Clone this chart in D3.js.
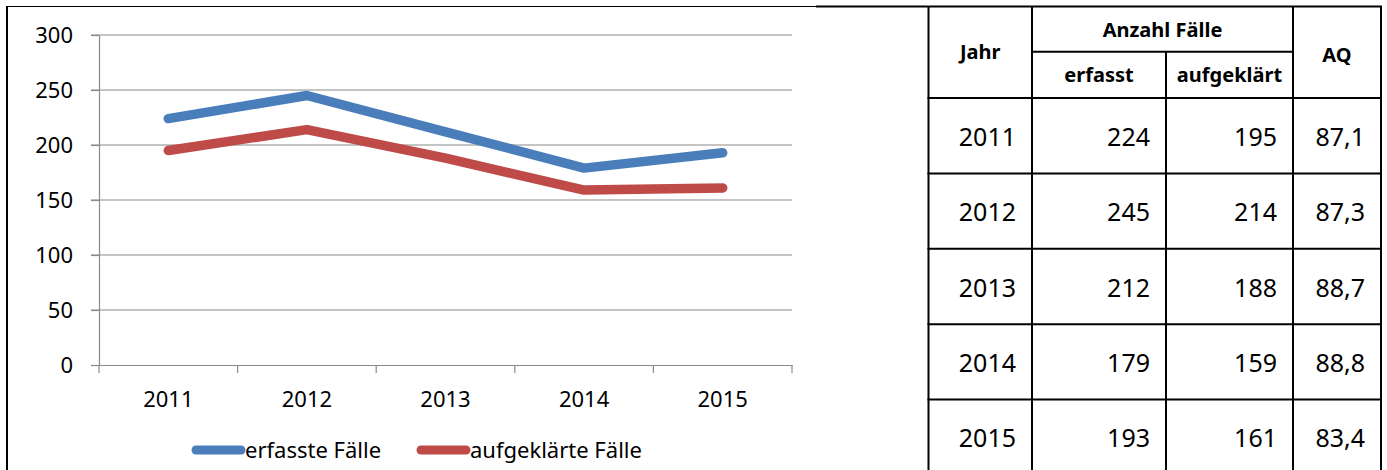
<!DOCTYPE html>
<html lang="de">
<head>
<meta charset="UTF-8">
<title>Fälle 2011-2015</title>
<script src="https://cdn.jsdelivr.net/npm/d3@7/dist/d3.min.js"></script>
<style>
  body { margin: 0; background: #fff; }
  svg text { font-family: "Noto Sans", sans-serif; fill: #000; }
  .grid line { stroke: #8a8a8a; stroke-width: 1.2; }
  .ax path, .ax line { stroke: #8a8a8a; stroke-width: 1.2; }
  .tbl line { stroke: #000; stroke-width: 2; }
</style>
</head>
<body>
<svg id="chart" width="1387" height="470"></svg>
<script>

// data
var years = ["2011", "2012", "2013", "2014", "2015"];
var erfasst = [224, 245, 212, 179, 193];
var aufgeklaert = [195, 214, 188, 159, 161];
var aq = ["87,1", "87,3", "88,7", "88,8", "83,4"];
var yTicks = [0, 50, 100, 150, 200, 250, 300];
var seriesNames = ["erfasste Fälle", "aufgeklärte Fälle"];
var seriesColors = ["#4a7ebb", "#be4b48"];

var svg = d3.select("#chart");

// ---------- line chart ----------
var x = d3.scaleBand().domain(years).range([99, 792]);
var y = d3.scaleLinear().domain([0, 300]).range([365, 35]);

// frame
svg.append("line").attr("x1", 7).attr("x2", 7).attr("y1", 6).attr("y2", 470)
    .style("stroke", "#000").style("stroke-width", 2);
svg.append("line").attr("x1", 6).attr("x2", 816).attr("y1", 6.5).attr("y2", 6.5)
    .style("stroke", "#000").style("stroke-width", 1.2);

// gridlines
svg.append("g").attr("class", "grid")
    .selectAll("line").data(yTicks.filter(function (d) { return d > 0; }))
    .enter().append("line")
    .attr("x1", 91).attr("x2", 792)
    .attr("y1", function (d) { return y(d); })
    .attr("y2", function (d) { return y(d); });

// y axis
var yAxis = svg.append("g").attr("class", "ax")
    .attr("transform", "translate(99,0)")
    .call(d3.axisLeft(y).tickValues(yTicks).tickSize(8).tickSizeOuter(0).tickPadding(18));
yAxis.selectAll("text").style("font-size", "22px").attr("dy", "0.36em");

// x axis
var xAxis = svg.append("g").attr("class", "ax")
    .attr("transform", "translate(0,365)")
    .call(d3.axisBottom(x).tickSize(0).tickSizeOuter(0).tickPadding(0));
xAxis.selectAll("text").style("font-size", "22px").attr("y", 26).attr("dy", "0.71em");

// category boundary ticks
var bounds = years.map(function (d) { return x(d); }).concat([x.range()[1]]);
xAxis.selectAll(".bt").data(bounds).enter().append("line")
    .attr("class", "bt")
    .attr("x1", function (d) { return d; }).attr("x2", function (d) { return d; })
    .attr("y1", 0).attr("y2", 8);

// lines
var line = d3.line()
    .x(function (d, i) { return x(years[i]) + x.bandwidth() / 2; })
    .y(function (d) { return y(d); });

[erfasst, aufgeklaert].forEach(function (s, k) {
    svg.append("path").datum(s)
        .attr("d", line)
        .style("fill", "none")
        .style("stroke", seriesColors[k])
        .style("stroke-width", 9.5)
        .style("stroke-linecap", "round")
        .style("stroke-linejoin", "round");
});

// legend
var legX = [196, 421];
seriesNames.forEach(function (n, k) {
    svg.append("line")
        .attr("x1", legX[k]).attr("x2", legX[k] + 45)
        .attr("y1", 450).attr("y2", 450)
        .style("stroke", seriesColors[k]).style("stroke-width", 9)
        .style("stroke-linecap", "round");
    svg.append("text").attr("x", legX[k] + 49).attr("y", 458)
        .style("font-size", "22px").text(n);
});

// ---------- table ----------
var cols = [928.5, 1032, 1166, 1293, 1381];
var rowTop = 98, rowH = 75.4, tTop = 6.5, split = 51.7;
var tbl = svg.append("g").attr("class", "tbl");

// top border (runs over from the chart frame)
tbl.append("line").attr("x1", 816).attr("x2", cols[4] + 1).attr("y1", tTop).attr("y2", tTop);
// vertical lines (the one between erfasst / aufgeklärt starts below "Anzahl Fälle")
tbl.selectAll(".v").data(cols).enter().append("line").attr("class", "v")
    .attr("x1", function (d) { return d; }).attr("x2", function (d) { return d; })
    .attr("y1", function (d, i) { return i === 2 ? split : tTop; })
    .attr("y2", 470);
// header split
tbl.append("line").attr("x1", cols[1]).attr("x2", cols[3]).attr("y1", split).attr("y2", split);
// row lines
var rowLines = d3.range(years.length).map(function (i) { return rowTop + i * rowH; });
tbl.selectAll(".h").data(rowLines).enter().append("line").attr("class", "h")
    .attr("x1", cols[0] - 1).attr("x2", cols[4] + 1)
    .attr("y1", function (d) { return d; }).attr("y2", function (d) { return d; });

// header text
function head(txt, cx, by) {
    svg.append("text").attr("x", cx).attr("y", by)
        .attr("text-anchor", "middle")
        .style("font-size", "20px").style("font-weight", "700")
        .text(txt);
}
head("Jahr", (cols[0] + cols[1]) / 2, 59);
head("Anzahl Fälle", (cols[1] + cols[3]) / 2, 37);
head("erfasst", (cols[1] + cols[2]) / 2, 82);
head("aufgeklärt", (cols[2] + cols[3]) / 2, 82);
head("AQ", (cols[3] + cols[4]) / 2, 62);

// body text
years.forEach(function (yr, i) {
    var vals = [yr, erfasst[i], aufgeklaert[i], aq[i]];
    var base = rowTop + i * rowH + rowH / 2 + 10;
    vals.forEach(function (v, c) {
        svg.append("text")
            .attr("x", cols[c + 1] - 16)
            .attr("y", base)
            .attr("text-anchor", "end")
            .style("font-size", "25px")
            .text(v);
    });
});

</script>
</body>
</html>
